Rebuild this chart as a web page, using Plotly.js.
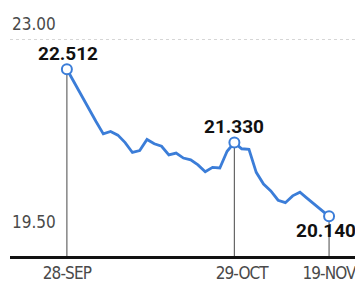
<!DOCTYPE html>
<html>
<head>
<meta charset="utf-8">
<script src="https://cdn.plot.ly/plotly-3.0.1.min.js"></script>
<style>
  html, body { margin: 0; padding: 0; background: #fff; }
  #chart { width: 355px; height: 283px; }
  #chart .xtick text { letter-spacing: -0.9px; }
</style>
</head>
<body>
<div id="chart"></div>
<script>
// ---- data ----
// trading-session index, 0 = 28-SEP
const sessions = [0,1,2,3,4,5,6,7,8,9,10,11,12,13,14,15,16,17,18,19,20,21,22,23,24,25,26,27,28,29,30,31,32,33,34,35,36];
const prices = [22.512,22.30,22.08,21.88,21.67,21.47,21.51,21.45,21.33,21.17,21.20,21.38,21.31,21.27,21.13,21.16,21.08,21.05,20.97,20.86,20.93,20.92,21.19,21.330,21.23,21.22,20.85,20.66,20.55,20.40,20.36,20.47,20.53,20.43,20.33,20.24,20.140];
const highlightIdx = [0, 23, 36];
const xTickVals = [0, 24, 36];
const xTickText = ['28-SEP', '29-OCT', '19-NOV'];
const yLabelVals = [23.00, 19.50];
const yLabelText = ['23.00', '19.50'];

// ---- styling / positioning (not data) ----
const yMin = 19.5, yMax = 23.63;
const blue = '#3b7dd8';
const labelShift = [[1.5, 15.5], [0, 16.5], [-3, -14]];
const yLabelShift = [3, 22];

const dropX = [], dropY = [];
highlightIdx.forEach(i => { dropX.push(sessions[i], sessions[i], null); dropY.push(prices[i], yMin, null); });

const traces = [
  { x: dropX, y: dropY, mode: 'lines', line: { color: '#666', width: 1.2 }, hoverinfo: 'skip', showlegend: false },
  { x: sessions, y: prices, mode: 'lines', line: { color: blue, width: 2.8 }, showlegend: false },
  { x: highlightIdx.map(i => sessions[i]), y: highlightIdx.map(i => prices[i]), mode: 'markers',
    marker: { symbol: 'circle', size: 10, color: '#fff', line: { color: blue, width: 2 } }, showlegend: false }
];

const annotations = highlightIdx.map((i, k) => ({
  x: sessions[i], y: prices[i], xref: 'x', yref: 'y',
  text: prices[i].toFixed(3), showarrow: false,
  xanchor: 'center', yanchor: 'middle',
  xshift: labelShift[k][0], yshift: labelShift[k][1],
  font: { family: 'Roboto, Arial, sans-serif', size: 19, color: '#111', weight: 'bold' }
})).concat(yLabelVals.map((v, k) => ({
  x: 0, xref: 'paper', y: v, yref: 'y', text: yLabelText[k], showarrow: false,
  xanchor: 'left', yanchor: 'bottom', xshift: 0, yshift: yLabelShift[k],
  font: { family: '"Liberation Sans Narrow", "DejaVu Sans Condensed", sans-serif', size: 17, color: '#4a4a4a' }
})));

const layout = {
  width: 355, height: 283,
  margin: { l: 10, r: 0, t: 0, b: 27 },
  paper_bgcolor: '#fff', plot_bgcolor: '#fff',
  showlegend: false,
  xaxis: {
    range: [-7.81, 39.56], showgrid: false, zeroline: false,
    showline: true, linecolor: '#111', linewidth: 3,
    tickmode: 'array', tickvals: xTickVals, ticktext: xTickText, ticks: '',
    ticklabeloverflow: 'allow',
    tickfont: { family: '"Liberation Sans Narrow", "DejaVu Sans Condensed", sans-serif', size: 17, color: '#4a4a4a' }
  },
  yaxis: {
    range: [yMin, yMax], showline: false, zeroline: false,
    tickmode: 'array', tickvals: [23.00], showticklabels: false, ticks: '',
    showgrid: true, gridcolor: '#d6d6d6', griddash: 'dot', gridwidth: 1
  },
  annotations: annotations
};

Plotly.newPlot('chart', traces, layout, { displayModeBar: false, staticPlot: true });
</script>
</body>
</html>
